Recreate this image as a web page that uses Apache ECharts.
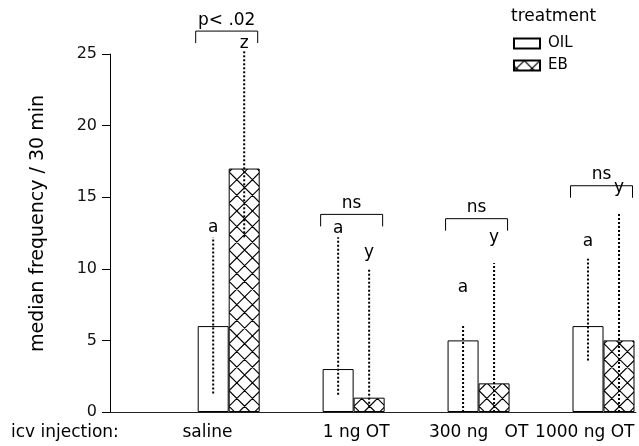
<!DOCTYPE html>
<html><head><meta charset="utf-8">
<script src="https://cdn.jsdelivr.net/npm/echarts@6/dist/echarts.min.js"></script>
<style>html,body{margin:0;padding:0;background:#fff}#c{width:639px;height:446px}</style>
</head><body><div id="c"></div>
<script>
// ---- data ----
const categories = ['saline', '1 ng OT', '300 ng   OT', '1000 ng OT'];
const labelAt = [0.83, 2.02, 3.0, 3.85];
const groupX = [1, 2, 3, 4];
const treatments = ['OIL', 'EB'];
const oilMedian = [6, 3, 5, 6];
const ebMedian = [17, 1, 2, 5];
const oilLow = [1.3, 1.2, 0, 3.6];
const oilHigh = [12.2, 12.2, 6.0, 10.7];
const ebLow = [12.2, 0.3, 0, 0];
const ebHigh = [25.3, 10.0, 10.4, 13.9];
const oilLetters = ['a', 'a', 'a', 'a'];
const oilLetterAt = [12.9, 12.8, 8.7, 11.9];
const ebLetters = ['z', 'y', 'y', 'y'];
const ebLetterAt = [25.7, 11.1, 12.2, 15.7];
const compareText = ['p< .02', 'ns', 'ns', 'ns'];
const compareAt = [26.6, 13.8, 13.5, 15.8];
const yMin = 0, yMax = 25, yStep = 5;
const leadLabel = 'icv injection:';
const legendTitle = 'treatment';
const yName = 'median frequency / 30 min';

// ---- styles ----
const FONT = '"DejaVu Sans", sans-serif';
const BAR_W = 31;

function hatchCanvas() {
  const s = 125, p = s / 8;
  const c = document.createElement('canvas');
  c.width = s; c.height = s;
  const g = c.getContext('2d');
  g.fillStyle = '#fff'; g.fillRect(0, 0, s, s);
  g.strokeStyle = '#000'; g.lineWidth = 1.1;
  const x0 = 10.25;
  g.beginPath();
  for (let i = -10; i <= 18; i++) {
    const x = x0 + i * p;
    g.moveTo(x, 0); g.lineTo(x + s, s);
    g.moveTo(x, 0); g.lineTo(x - s, s);
  }
  g.stroke();
  return c;
}
const hatch = { image: hatchCanvas(), repeat: 'repeat' };

function rangeRenderer(offset, letters) {
  return function (params, api) {
    const x = api.value(0);
    const a = api.coord([x, api.value(1)]);
    const b = api.coord([x, api.value(2)]);
    const t = api.coord([x, api.value(3)]);
    return {
      type: 'group',
      children: [
        { type: 'line', shape: { x1: a[0] + offset, y1: a[1], x2: b[0] + offset, y2: b[1] },
          style: { stroke: '#000', lineWidth: 2, lineDash: [2, 2] } },
        { type: 'text', x: t[0] + offset, y: t[1],
          style: { text: letters[params.dataIndex], fill: '#000', font: '17px ' + FONT,
                   align: 'center', verticalAlign: 'middle' } }
      ]
    };
  };
}

function bracketRenderer(params, api) {
  const p = api.coord([api.value(0), api.value(1)]);
  const L = p[0] - 33, R = p[0] + 29, Y = p[1];
  return {
    type: 'group',
    children: [
      { type: 'polyline', shape: { points: [[L, Y + 12], [L, Y], [R, Y], [R, Y + 12]] },
        style: { stroke: '#000', lineWidth: 1, fill: null } },
      { type: 'text', x: p[0] - 2, y: Y - 11,
        style: { text: compareText[params.dataIndex], fill: '#000', font: '17px ' + FONT,
                 align: 'center', verticalAlign: 'middle' } }
    ]
  };
}

const chart = echarts.init(document.getElementById('c'), null, { renderer: 'canvas' });
chart.setOption({
  animation: false,
  backgroundColor: '#fff',
  textStyle: { fontFamily: FONT, color: '#000' },
  title: {
    text: legendTitle, left: 511, top: 8, padding: 0,
    textStyle: { fontFamily: FONT, fontSize: 17, fontWeight: 'normal', color: '#000' }
  },
  legend: {
    data: treatments, orient: 'vertical', left: 513, top: 36, padding: 0,
    itemWidth: 26, itemHeight: 10, itemGap: 7, icon: 'rect',
    textStyle: { fontFamily: FONT, fontSize: 15, color: '#000', padding: [0, 0, 0, 3] }
  },
  graphic: [
    { type: 'text', left: 11, top: 424,
      style: { text: leadLabel, font: '17px ' + FONT, fill: '#000' } }
  ],
  grid: { left: 110, right: 3, top: 54, bottom: 34 },
  xAxis: {
    type: 'value', min: 0.05, max: 4.26,
    axisLine: { show: true, lineStyle: { color: '#222', width: 1 } },
    axisTick: { show: false },
    splitLine: { show: false },
    axisLabel: {
      customValues: labelAt, margin: 12, fontSize: 17, fontFamily: FONT, color: '#000',
      formatter: function (v) {
        let best = 0;
        for (let i = 1; i < labelAt.length; i++)
          if (Math.abs(labelAt[i] - v) < Math.abs(labelAt[best] - v)) best = i;
        return categories[best];
      }
    }
  },
  yAxis: {
    type: 'value', min: yMin, max: yMax, interval: yStep,
    name: yName, nameLocation: 'middle', nameGap: 62, nameRotate: 90,
    nameTextStyle: { fontFamily: FONT, fontSize: 19, color: '#000', padding: [0, 0, 0, 19] },
    axisLine: { show: true, lineStyle: { color: '#000', width: 1 } },
    axisTick: { show: true, length: 8, lineStyle: { color: '#000' } },
    splitLine: { show: false },
    axisLabel: { margin: 13, fontSize: 16, fontFamily: FONT, color: '#111' }
  },
  series: [
    { name: treatments[0], type: 'bar', barWidth: BAR_W, barGap: '0%',
      data: groupX.map((x, i) => [x, oilMedian[i]]),
      itemStyle: { color: '#fff', borderColor: '#000', borderWidth: 1 } },
    { name: treatments[1], type: 'bar', barWidth: BAR_W, barGap: '0%',
      data: groupX.map((x, i) => [x, ebMedian[i]]),
      itemStyle: { color: hatch, borderColor: '#000', borderWidth: 1 } },
    { type: 'custom', silent: true, z: 5, clip: false,
      data: groupX.map((x, i) => [x, oilLow[i], oilHigh[i], oilLetterAt[i]]),
      renderItem: rangeRenderer(-BAR_W / 2, oilLetters) },
    { type: 'custom', silent: true, z: 5, clip: false,
      data: groupX.map((x, i) => [x, ebLow[i], ebHigh[i], ebLetterAt[i]]),
      renderItem: rangeRenderer(BAR_W / 2, ebLetters) },
    { type: 'custom', silent: true, z: 5, clip: false,
      data: groupX.map((x, i) => [x, compareAt[i]]),
      renderItem: bracketRenderer }
  ]
});
</script>
</body></html>
